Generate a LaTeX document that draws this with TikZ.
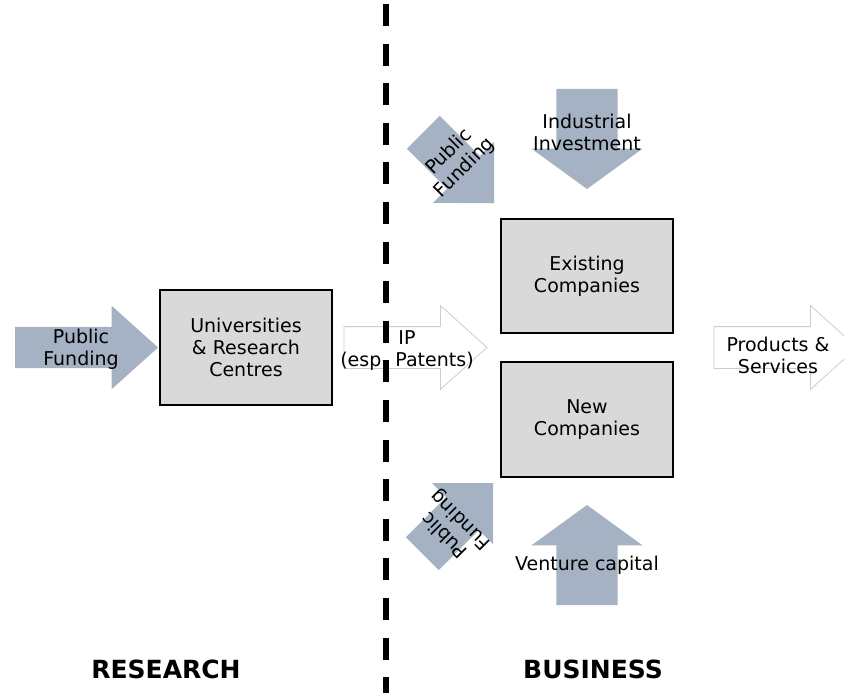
\documentclass[tikz,border=0pt]{standalone}
\usepackage{fontspec}
\setmainfont{DejaVu Sans}
\usetikzlibrary{shapes.arrows,positioning}

\definecolor{arrowgray}{RGB}{164,178,195}
\definecolor{boxgray}{RGB}{217,217,217}
\definecolor{ipgray}{RGB}{205,205,205}

\tikzset{
  org/.style={draw=black, line width=2.2pt, fill=boxgray, outer sep=0pt,
    minimum width=172pt, minimum height=115pt, align=center,
    font=\fontsize{19}{22}\selectfont},
  lbl/.style={align=center, inner sep=0pt, font=\fontsize{19}{22}\selectfont},
  sector/.style={inner sep=0pt, font=\fontsize{25}{30}\selectfont\bfseries},
  flow/.style={single arrow, fill=arrowgray, inner sep=0pt, outer sep=0pt,
    inner ysep=20.5pt, minimum height=143pt, single arrow head extend=21pt,
    single arrow tip angle=84, anchor=tip},
  outflow/.style={flow, draw=ipgray, fill=white, line width=0.8pt},
  invest/.style={flow, inner ysep=30.5pt, minimum height=100pt,
    single arrow head extend=25pt, single arrow tip angle=108},
  diag/.style={flow, inner ysep=23pt, minimum height=100pt,
    single arrow head extend=20pt, single arrow tip angle=90}
}

\begin{document}
\begin{tikzpicture}[x=1pt, y=-1pt]
  \clip (0,0) rectangle (844,693);

  % funding and output arrows
  \node[flow] (pubfund) at (158,347.5) {};
  \node[lbl] (pubfundtxt) at (81,349) {Public\\Funding};
  \node[outflow] (ip) at (487,347.5) {};
  \node[outflow] (prod) at (857,347.5) {};
  \node[lbl] (prodtxt) at (778,355) {Products \&\\Services};
  \node[invest, rotate=-90] (indinv) at (587,189) {};
  \node[lbl] (indinvtxt) at (587,132) {Industrial\\Investment};
  \node[invest, rotate=90] (venture) at (587,505) {};
  \node[lbl] (venturetxt) at (587,565) {Venture capital};
  \node[diag, rotate=-45] (pubtop) at (494,203) {};
  \node[lbl, rotate=45] (pubtoptxt) at (457,160) {Public\\Funding};
  \node[diag, rotate=45] (pubbot) at (493,483) {};
  \node[lbl, rotate=135] (pubbottxt) at (453,527) {Public\\Funding};

  % organisations
  \node[org] (univ) at (246,347.5) {Universities\\\& Research\\Centres};
  \node[org, minimum height=114pt] (exist) at (587,276) {Existing\\Companies};
  \node[org, below=29pt of exist] (new) {New\\Companies};

  % sectors
  \node[sector] (research) at (166,669) {RESEARCH};
  \node[sector] (business) at (593,669) {BUSINESS};

  % dividing line, over the IP label
  \node[lbl] (iptxt) at (407,351) {IP\\(esp. Patents)};
  \coordinate (divtop) at (386,4);
  \coordinate (divbot) at (386,693);
  \draw[line width=6pt, dash pattern=on 22pt off 17.6pt] (divtop) -- (divbot);
\end{tikzpicture}
\end{document}
